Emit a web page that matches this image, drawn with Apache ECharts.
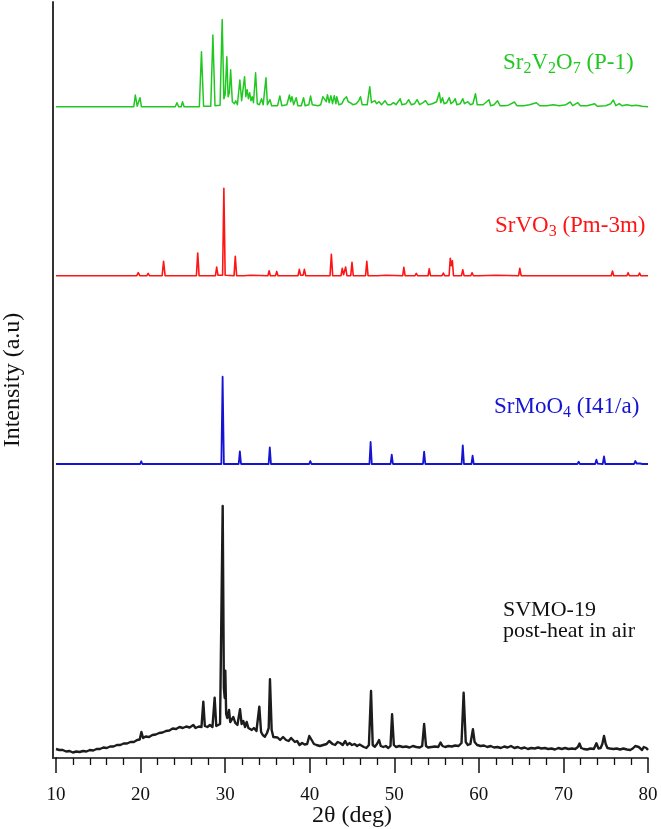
<!DOCTYPE html>
<html>
<head>
<meta charset="utf-8">
<script src="https://cdn.jsdelivr.net/npm/echarts@6/dist/echarts.min.js"></script>
<style>
html,body{margin:0;padding:0;background:#fff;}
#chart{width:661px;height:829px;}
</style>
</head>
<body>
<div id="chart"></div>
<script>
// 2θ (deg) ticks
const xTicks = [10, 20, 30, 40, 50, 60, 70, 80];

// Trace baselines (arbitrary stacking offsets, a.u.)
const offsetGreen = 651.3;
const offsetRed = 482.3;
const offsetBlue = 294;
const offsetBlack = 0;

// Sr2V2O7 (P-1) reference pattern: [2θ, intensity above baseline]
const sr2v2o7 = [
[10,0],[17.0,0],[17.2,1],[17.4,0],[19.2,0],[19.38,11.7],[19.6,0.5],[19.8,0.5],[19.93,9],[20.1,0],[24.1,0],[24.3,4],[24.5,0],[24.8,0],[24.96,5],[25.15,0],
[26.95,0],[27.2,55],[27.45,0.5],[28.3,0.5],[28.55,71.7],[28.8,1],[29.4,1.5],[29.65,87.3],[29.85,8],[30.0,12],[30.2,50],[30.35,10],[30.5,14],[30.65,37],[30.85,5],
[31.1,3],[31.25,6],[31.45,2],[31.74,26.7],[31.95,6],[32.1,8],[32.3,30],[32.45,10],[32.6,17],[32.75,8],[32.9,14],[33.05,6],[33.2,10],[33.35,4],[33.6,34],[33.8,3],
[34.05,2],[34.3,8],[34.5,2],[34.83,29],[35.0,2],[35.3,7],[35.5,1],[36.2,1],[36.47,10.7],[36.7,1],[37.3,2],[37.6,11.7],[37.75,5],[37.9,10],[38.1,2],[38.4,9],[38.6,1],
[39.0,1],[39.27,9],[39.45,1],[39.9,2],[40.1,10.7],[40.3,2],[41.0,1],[41.3,2],[41.55,10],[41.76,12],[41.95,5],[42.1,12],[42.3,4],[42.5,11],[42.7,3],[42.9,11],[43.1,3],
[43.2,10],[43.45,2],[43.8,3],[44.1,8],[44.35,10],[44.55,5],[44.8,4],[45.1,2],[45.5,3],[45.8,6],[46.0,10],[46.2,2],[46.8,2],[47.1,20],[47.3,4],[47.7,6],[47.9,3],
[48.2,5],[48.5,2],[48.9,6],[49.2,2],[49.6,2],[49.9,4],[50.2,2],[50.45,5],[50.7,8],[50.9,2],[51.4,3],[51.7,7],[52.0,2],[52.4,3],[52.7,7],[53.0,2],[53.4,4],[53.7,6],
[54.0,2],[54.5,3],[55.0,5],[55.32,14],[55.5,4],[55.7,9],[55.9,3],[56.2,4],[56.5,9],[56.7,3],[57.0,5],[57.2,8],[57.4,2],[57.8,3],[58.1,8],[58.3,3],[58.7,5],[59.0,2],
[59.3,3],[59.6,13],[59.8,2],[60.5,2],[61.2,7],[61.4,1],[61.8,2],[62.2,6],[62.5,1],[63.0,1],[63.5,1.5],[64.2,4.7],[64.5,1],[65.3,1],[66.0,2],[66.8,4],[67.2,1],
[68.0,1],[68.8,2],[69.5,1],[70.3,2],[70.8,4.7],[71.1,1],[71.7,4],[72.0,1],[72.8,1],[73.7,3],[74.0,0.5],[75.0,1],[75.6,3],[75.9,6.7],[76.2,1],[76.6,3],[76.9,1],
[77.5,2],[78.1,1],[78.6,1.5],[79.3,0.5],[80,0]
];

// SrVO3 (Pm-3m) reference pattern
const srvo3 = [
[10,0],[17.8,0],[17.93,1],[18.1,0],[19.55,0],[19.73,3],[19.9,0],[20.75,0],[20.9,2.3],[21.05,0],[22.55,0],[22.72,14.3],[22.9,0],[26.6,0],[26.76,22.7],[26.92,0],
[28.85,0],[29.0,8.7],[29.15,0.5],[29.7,0.5],[29.85,87.3],[30.0,0.5],[31.05,0],[31.2,19.3],[31.36,0],[32.2,0],[33.0,0.5],[35.05,0],[35.2,5],[35.35,0],[35.95,0],
[36.1,4.3],[36.25,0],[38.62,0],[38.77,6.3],[38.92,0.5],[39.22,0.5],[39.37,6.3],[39.52,0],[42.4,0],[42.56,21.3],[42.72,0],[43.7,0],[43.85,7.3],[44.0,1],[44.1,1],
[44.25,8.7],[44.4,0],[44.85,0],[45.0,13.3],[45.15,0],[46.6,0],[46.75,14.3],[46.9,0],[48.0,0],[49.0,0.5],[51.0,0],[51.13,8.3],[51.28,0],[52.45,0],[52.6,2.3],[52.75,0],
[54.0,0],[54.13,7],[54.28,0],[55.65,0],[55.8,2.7],[55.95,0],[56.48,0],[56.62,17.3],[56.75,10],[56.87,15],[57.0,0],[57.95,0],[58.1,6],[58.25,0],[59.05,0],[59.2,3],
[59.35,0],[60,0],[62.0,0.5],[64.7,0],[64.84,7.3],[65.0,0],[67.1,0],[67.2,1.5],[67.35,0],[68.1,0],[68.2,2],[68.35,0],[69.45,0],[69.6,1.5],[69.75,0],[72.3,0],
[72.4,1.5],[72.55,0],[75.65,0],[75.8,4.7],[75.95,0],[77.5,0],[77.65,3],[77.8,0],[78.85,0],[79.0,2.7],[79.15,0],[80,0]
];

// SrMoO4 (I41/a) reference pattern
const srmoo4 = [
[10,0],[19.95,0],[20.08,2.7],[20.22,0],[29.55,0],[29.7,87.3],[29.85,0],[31.6,0],[31.74,12.7],[31.88,0],[35.14,0],[35.28,16.7],[35.42,0],[37.3,0],[37.4,0.6],[37.5,0],
[39.93,0],[40.07,3],[40.21,0],[45.75,0],[45.9,1.7],[46.05,0],[47.06,0],[47.2,22],[47.34,0],[49.56,0],[49.7,9.3],[49.84,0],[53.39,0],[53.53,12.3],[53.67,0],
[57.96,0],[58.1,18.7],[58.24,0],[59.12,0],[59.26,8.3],[59.4,0],[63.65,0],[63.8,1.3],[63.95,0],[68.3,0],[68.4,0.6],[68.5,0],[71.65,0],[71.8,2.3],[71.95,0],
[73.75,0],[73.9,4.3],[74.05,0.3],[74.65,0],[74.8,7.7],[74.95,0],[78.35,0],[78.5,3],[78.65,0.5],[79.05,0.5],[79.2,2],[79.35,0],[80,0]
];

// SVMO-19 post-heat in air (measured)
const svmo19 = [
[10.0,9],[10.4,8],[10.8,8],[11.2,6.5],[11.6,7],[12.0,5.5],[12.4,6.5],[12.8,6],[13.2,7],[13.6,6.5],[14.0,8],[14.4,7.5],[14.8,9],[15.2,9],[15.6,10.5],[16.0,10],
[16.4,11.5],[16.8,11.5],[17.2,13],[17.6,13],[18.0,14.5],[18.4,14.5],[18.8,16],[19.2,16],[19.6,18],[19.9,18.5],[20.1,26],[20.3,20],[20.6,21.5],[21.0,21],[21.4,23],
[21.8,23.5],[22.2,25],[22.6,25.5],[23.0,27],[23.4,27.5],[23.8,29.5],[24.2,29],[24.6,31],[25.0,30],[25.4,31.5],[25.8,30.5],[26.24,33],[26.5,30],[26.9,31.5],[27.2,31],
[27.42,56.3],[27.6,32],[27.9,31],[28.2,33],[28.5,31],[28.76,60.3],[28.95,32],[29.1,30],[29.4,34],[29.55,36],[29.71,252],[29.85,70],[29.95,60],[30.02,87.3],[30.12,44],
[30.25,40],[30.46,48],[30.6,36],[30.75,38],[30.97,41],[31.2,35],[31.45,33],[31.76,48.7],[31.95,34],[32.15,37],[32.35,31],[32.55,36],[32.75,30],[32.95,32],[33.15,28],
[33.4,30],[33.7,27],[34.04,51.3],[34.25,26],[34.45,23],[34.7,21.3],[34.95,25],[35.15,30],[35.3,78.7],[35.5,28],[35.7,21],[35.9,20],[36.2,20.5],[36.5,18],[36.85,21],
[37.2,18],[37.5,17],[37.8,20],[38.0,21],[38.25,16],[38.5,17],[38.8,13],[39.1,15],[39.4,13.5],[39.7,14],[39.95,22],[40.1,24],[40.3,17],[40.5,14],[40.8,13],[41.2,12],
[41.6,13],[42.0,14],[42.3,17],[42.48,19],[42.7,14],[43.0,13],[43.3,16],[43.6,15],[43.9,13],[44.2,17],[44.45,13],[44.7,15],[45.0,13],[45.3,14],[45.6,12],[45.9,13.5],
[46.1,13],[46.4,11],[46.7,10],[47.0,13],[47.25,67],[47.45,13],[47.7,11.3],[47.95,14],[48.2,18],[48.4,12],[48.7,11],[49.0,12],[49.3,10],[49.55,12],[49.74,43.7],
[49.95,13],[50.2,11],[50.6,12],[51.0,11],[51.4,11.5],[51.8,10.5],[52.2,12],[52.6,11],[53.0,10.5],[53.3,12],[53.53,34],[53.75,12],[54.0,10.5],[54.4,11],[54.8,11.5],
[55.2,11],[55.47,15.5],[55.7,12],[56.0,11],[56.4,12],[56.8,11.5],[57.2,12.5],[57.6,12],[57.95,15],[58.2,65.3],[58.45,16],[58.7,13],[59.0,14],[59.3,28.7],[59.5,16],
[59.8,13],[60.2,12],[60.6,12.5],[61.0,11],[61.4,12],[61.8,10.5],[62.2,11],[62.6,10],[63.0,11.5],[63.4,10.5],[63.8,12],[64.2,10],[64.6,11],[65.0,9.5],[65.4,10.5],
[65.8,9],[66.2,10],[66.6,9.5],[67.0,10.5],[67.4,9.5],[67.8,10],[68.2,9],[68.6,9.5],[69.0,8.5],[69.4,10],[69.8,9],[70.2,10],[70.6,9],[71.0,9.5],[71.4,9],[71.7,11],
[71.9,14.5],[72.1,10],[72.4,9],[72.8,8.5],[73.2,9.5],[73.6,9],[73.9,14.7],[74.15,9.5],[74.4,10],[74.6,14],[74.8,22],[75.0,14],[75.2,10],[75.5,9.5],[75.9,9],[76.3,9.5],
[76.7,8.5],[77.1,9.5],[77.5,8.5],[77.9,8],[78.2,9.5],[78.5,12],[78.7,14],[78.9,11],[79.1,9],[79.3,8],[79.5,11],[79.6,12.5],[79.8,10],[80.0,8]
];

const FONT = '"Liberation Serif", "Times New Roman", serif';
const shift = (arr, off) => arr.map(p => [p[0], p[1] + off]);

const chart = echarts.init(document.getElementById('chart'), null, {renderer: 'canvas'});

function lineSeries(name, data, color, width, z) {
  return {
    name, type: 'line', data, showSymbol: false, symbol: 'none',
    lineStyle: {color, width, join: 'round'}, itemStyle: {color},
    animation: false, z, silent: true, clip: true
  };
}

function labelRich(color) {
  return {
    n: {fontFamily: FONT, fontSize: 23, fill: color, color: color, lineHeight: 28, verticalAlign: 'middle'},
    s: {fontFamily: FONT, fontSize: 16, fill: color, color: color, lineHeight: 16, verticalAlign: 'bottom'}
  };
}

const GREEN = '#22c822', RED = '#ff1414', BLUE = '#1414d2', BLACK = '#1c1c1c';

chart.setOption({
  backgroundColor: '#ffffff',
  animation: false,
  grid: {left: 56, right: 13, top: 2, bottom: 71, containLabel: false, outerBoundsMode: 'none'},
  xAxis: {
    type: 'value', min: 10, max: 80, interval: 10,
    name: '2θ (deg)', nameLocation: 'middle', nameGap: 46, nameMoveOverlap: false,
    nameTextStyle: {fontFamily: FONT, fontSize: 24, color: '#111'},
    axisLine: {show: true, onZero: false, lineStyle: {color: '#111', width: 1.5}},
    axisTick: {show: true, inside: false, length: 15, lineStyle: {color: '#111', width: 1.5}},
    minorTick: {show: true, splitNumber: 5, length: 7, lineStyle: {color: '#111', width: 1.3}},
    axisLabel: {fontFamily: FONT, fontSize: 19, color: '#111', margin: 28,
      formatter: v => (xTicks.indexOf(v) >= 0 ? String(v) : '')},
    splitLine: {show: false}
  },
  yAxis: {
    type: 'value', min: 0, max: 756, offset: 3,
    name: 'Intensity (a.u)', nameLocation: 'middle', nameGap: 28, nameMoveOverlap: false,
    nameTextStyle: {fontFamily: FONT, fontSize: 24, color: '#111'},
    axisLine: {show: true, lineStyle: {color: '#333', width: 2}},
    axisTick: {show: false}, axisLabel: {show: false}, splitLine: {show: false}
  },
  series: [
    lineSeries('SVMO-19', shift(svmo19, offsetBlack), BLACK, 2.4, 1),
    lineSeries('SrMoO4', shift(srmoo4, offsetBlue), BLUE, 1.8, 2),
    lineSeries('SrVO3', shift(srvo3, offsetRed), RED, 1.6, 3),
    lineSeries('Sr2V2O7', shift(sr2v2o7, offsetGreen), GREEN, 1.5, 4)
  ],
  graphic: [
    {type: 'line', silent: true, shape: {x1: 52, y1: 758, x2: 57, y2: 758}, style: {stroke: '#111', lineWidth: 1.5}},
    {type: 'text', x: 503, y: 62.5, silent: true,
      style: {text: '{n|Sr}{s|2}{n|V}{s|2}{n|O}{s|7}{n| (P-1)}', rich: labelRich(GREEN), align: 'left', verticalAlign: 'middle'}},
    {type: 'text', x: 495, y: 225.5, silent: true,
      style: {text: '{n|SrVO}{s|3}{n| (Pm-3m)}', rich: labelRich(RED), align: 'left', verticalAlign: 'middle'}},
    {type: 'text', x: 494, y: 406.5, silent: true,
      style: {text: '{n|SrMoO}{s|4}{n| (I41/a)}', rich: labelRich(BLUE), align: 'left', verticalAlign: 'middle'}},
    {type: 'text', x: 503, y: 600, silent: true,
      style: {text: 'SVMO-19\npost-heat in air', font: '22px ' + FONT, fill: '#111', lineHeight: 21, align: 'left', verticalAlign: 'top'}}
  ]
});
</script>
</body>
</html>
